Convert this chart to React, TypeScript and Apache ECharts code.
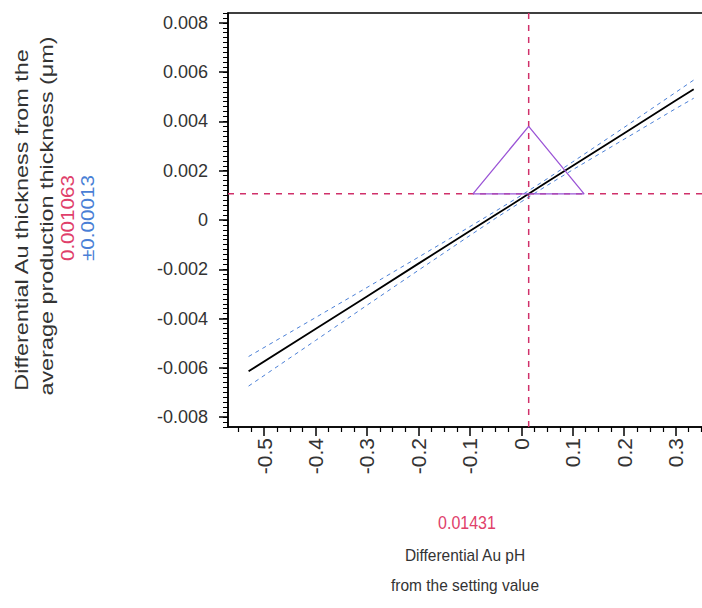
import React, { useEffect, useRef } from "react";
import * as echarts from "echarts";

// Profile trace
const xValues = [-0.53, -0.4, -0.3, -0.2, -0.1, -0.05, 0, 0.05, 0.1, 0.2, 0.3, 0.335];
const fitValues = [-0.00614, -0.00442, -0.0031, -0.00177, -0.00045, 0.00021, 0.00087, 0.00154, 0.0022, 0.00352, 0.00485, 0.00531];
const upperValues = [-0.00554, -0.00396, -0.00274, -0.00151, -0.00027, 0.00036, 0.001, 0.00167, 0.00236, 0.00376, 0.00518, 0.00568];
const lowerValues = [-0.00674, -0.00489, -0.00346, -0.00204, -0.00063, 0.00007, 0.00074, 0.0014, 0.00204, 0.00328, 0.00452, 0.00494];

// Current setting and predicted value
const settingX = 0.01431;
const predictedY = 0.001063;
const ciLabel = "±0.00013";

// Desirability triangle
const triangleX = [-0.094, 0.01431, 0.122, -0.094];
const triangleY = [0.001063, 0.0038, 0.001063, 0.001063];

// Axes
const xRange = [-0.57, 0.355];
const yRange = [-0.0084, 0.0084];
const xMajorTicks = [-0.5, -0.4, -0.3, -0.2, -0.1, 0, 0.1, 0.2, 0.3];
const xMinorTicks = [-0.55, -0.525, -0.475, -0.45, -0.425, -0.375, -0.35, -0.325, -0.275, -0.25, -0.225, -0.175, -0.15, -0.125, -0.075, -0.05, -0.025, 0.025, 0.05, 0.075, 0.125, 0.15, 0.175, 0.225, 0.25, 0.275, 0.325, 0.35];
const yMajorTicks = [-0.008, -0.006, -0.004, -0.002, 0, 0.002, 0.004, 0.006, 0.008];
const yMinorStep = 0.0002;

const yTitle1 = "Differential Au thickness from the";
const yTitle2 = "average production thickness (μm)";
const xTitle1 = "Differential Au pH";
const xTitle2 = "from the setting value";

const FONT = "'Liberation Sans', Arial, sans-serif";
const RED = "#e0406a";
const BLUE = "#4a7fd6";
const PURPLE = "#9b55d6";

const zip = (a: number[], b: number[]) => a.map((v, i) => [v, b[i]]);

export default function App() {
  const ref = useRef<HTMLDivElement>(null);
  useEffect(() => {
    if (!ref.current) return;
    const chart = echarts.init(ref.current, undefined, { renderer: "svg" });
    const fmt = (v: number) => (v === 0 ? "0" : String(+v.toFixed(4)));
    const option: any = {
      animation: false,
      grid: {
        left: 228,
        top: 13,
        width: 476,
        height: 414,
        show: true,
        borderColor: "#000",
        borderWidth: 1.5,
        backgroundColor: "transparent",
      },
      xAxis: [
        {
          type: "value",
          min: xRange[0],
          max: xRange[1],
          position: "bottom",
          splitLine: { show: false },
          axisLine: { show: true, onZero: false, lineStyle: { color: "#000", width: 1.5 } },
          axisTick: { show: true, length: 9, customValues: xMajorTicks, lineStyle: { color: "#000", width: 1.5 } },
          axisLabel: {
            customValues: xMajorTicks,
            rotate: 90,
            margin: 11,
            fontSize: 21,
            fontFamily: FONT,
            color: "#333",
            formatter: fmt,
          },
        },
        {
          type: "value",
          min: xRange[0],
          max: xRange[1],
          position: "bottom",
          splitLine: { show: false },
          axisLine: { show: false, onZero: false },
          axisTick: { show: true, length: 5, customValues: xMinorTicks, lineStyle: { color: "#000", width: 1.2 } },
          axisLabel: { show: false },
        },
      ],
      yAxis: [
        {
          type: "value",
          min: yRange[0],
          max: yRange[1],
          position: "left",
          splitLine: { show: false },
          axisLine: { show: true, onZero: false, lineStyle: { color: "#000", width: 1.5 } },
          axisTick: { show: true, length: 9, customValues: yMajorTicks, lineStyle: { color: "#000", width: 1.5 } },
          axisLabel: {
            customValues: yMajorTicks,
            margin: 20,
            fontSize: 18,
            fontFamily: FONT,
            color: "#333",
            formatter: fmt,
          },
        },
        {
          type: "value",
          min: yRange[0],
          max: yRange[1],
          interval: yMinorStep,
          position: "left",
          splitLine: { show: false },
          axisLine: { show: false, onZero: false },
          axisTick: { show: true, length: 5, lineStyle: { color: "#000", width: 1 } },
          axisLabel: { show: false },
        },
      ],
      series: [
        {
          type: "line",
          data: [[settingX, yRange[0]], [settingX, yRange[1]]],
          showSymbol: false,
          lineStyle: { color: "#d0306a", width: 1.5, type: [6, 6] },
          z: 1,
        },
        {
          type: "line",
          data: [[xRange[0], predictedY], [xRange[1], predictedY]],
          showSymbol: false,
          lineStyle: { color: "#d0306a", width: 1.5, type: [6, 6] },
          z: 1,
        },
        {
          type: "line",
          data: zip(xValues, upperValues),
          showSymbol: false,
          lineStyle: { color: BLUE, width: 1, type: [4, 4] },
          z: 2,
        },
        {
          type: "line",
          data: zip(xValues, lowerValues),
          showSymbol: false,
          lineStyle: { color: BLUE, width: 1, type: [4, 4] },
          z: 2,
        },
        {
          type: "line",
          data: zip(xValues, fitValues),
          showSymbol: false,
          lineStyle: { color: "#000", width: 1.8 },
          z: 3,
        },
        {
          type: "line",
          data: zip(triangleX, triangleY),
          showSymbol: false,
          lineStyle: { color: PURPLE, width: 1.3 },
          z: 4,
        },
      ],
      graphic: [
        {
          type: "text",
          x: 22,
          y: 220,
          rotation: Math.PI / 2,
          scaleX: 1.3,
          style: { text: yTitle1, fontSize: 18, fontFamily: FONT, fill: "#333", align: "center", verticalAlign: "middle" },
        },
        {
          type: "text",
          x: 47,
          y: 216,
          rotation: Math.PI / 2,
          scaleX: 1.3,
          style: { text: yTitle2, fontSize: 18, fontFamily: FONT, fill: "#333", align: "center", verticalAlign: "middle" },
        },
        {
          type: "text",
          x: 68,
          y: 218,
          rotation: Math.PI / 2,
          scaleX: 1.15,
          style: { text: String(predictedY), fontSize: 18, fontFamily: FONT, fill: RED, align: "center", verticalAlign: "middle" },
        },
        {
          type: "text",
          x: 88,
          y: 218,
          rotation: Math.PI / 2,
          scaleX: 1.15,
          style: { text: ciLabel, fontSize: 18, fontFamily: FONT, fill: BLUE, align: "center", verticalAlign: "middle" },
        },
        {
          type: "text",
          x: 467,
          y: 523,
          scaleY: 1.12,
          style: { text: String(settingX), fontSize: 16, fontFamily: FONT, fill: RED, align: "center", verticalAlign: "middle" },
        },
        {
          type: "text",
          x: 465,
          y: 555,
          scaleY: 1.12,
          style: { text: xTitle1, fontSize: 15.5, fontFamily: FONT, fill: "#333", align: "center", verticalAlign: "middle" },
        },
        {
          type: "text",
          x: 465,
          y: 585,
          scaleY: 1.12,
          style: { text: xTitle2, fontSize: 15.5, fontFamily: FONT, fill: "#333", align: "center", verticalAlign: "middle" },
        },
      ],
    };
    chart.setOption(option);
    return () => chart.dispose();
  }, []);
  return (
    <div
      ref={ref}
      style={{ position: "fixed", left: 0, top: 0, width: 706, height: 608, background: "#fff" }}
    />
  );
}
